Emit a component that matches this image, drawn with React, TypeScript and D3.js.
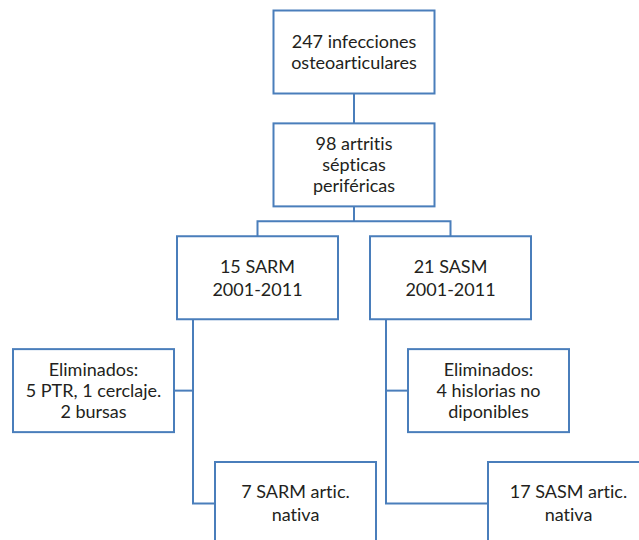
import { scaleLinear } from "d3";

// node labels (one array of lines per box)
const nodeIds = ["total", "artritis", "sarm", "sasm", "elimSarm", "elimSasm", "finalSarm", "finalSasm"];
const nodeLabels: string[][] = [
  ["247 infecciones", "osteoarticulares"],
  ["98 artritis", "sépticas", "periféricas"],
  ["15 SARM", "2001-2011"],
  ["21 SASM", "2001-2011"],
  ["Eliminados:", "5 PTR, 1 cerclaje.", "2 bursas"],
  ["Eliminados:", "4 hislorias no", "diponibles"],
  ["7 SARM artic.", "nativa"],
  ["17 SASM artic.", "nativa"],
];
const nodeRows = [0, 1, 2, 2, 3, 3, 4, 4];

const W = 639;
const H = 540;
const BOX_W = 161;
const BOX_H = 83;
const BLUE = "#4a7ebb";
const INK = "#231f20";

// layout: left edge of each box
const boxLeft: Record<string, number> = {
  total: 273.5,
  artritis: 273.5,
  sarm: 177,
  sasm: 370,
  elimSarm: 13,
  elimSasm: 408,
  finalSarm: 215,
  finalSasm: 488,
};
const lineGap: Record<string, number> = { sarm: 23, sasm: 23, finalSarm: 23, finalSasm: 23 };

const rowY = scaleLinear().domain([0, 4]).range([52, 503.5]);

export default function App() {
  const nodes = nodeIds.map((id, i) => {
    const cy = rowY(nodeRows[i]);
    const x = boxLeft[id];
    return { id, lines: nodeLabels[i], x, y: cy - BOX_H / 2, cx: x + BOX_W / 2, cy };
  });
  const n = Object.fromEntries(nodes.map((d) => [d.id, d]));

  const spineY = (n.artritis.y + BOX_H + n.sarm.y) / 2;
  const trunkL = n.sarm.x + 16;
  const trunkR = n.sasm.x + 16;

  const paths = [
    `M${n.total.cx},${n.total.y + BOX_H}V${n.artritis.y}`,
    `M${n.artritis.cx},${n.artritis.y + BOX_H}V${spineY}`,
    `M${n.sarm.cx},${n.sarm.y}V${spineY}H${n.sasm.cx}V${n.sasm.y}`,
    `M${trunkL},${n.sarm.y + BOX_H}V${n.finalSarm.cy}H${n.finalSarm.x}`,
    `M${trunkL},${n.elimSarm.cy}H${n.elimSarm.x + BOX_W}`,
    `M${trunkR},${n.sasm.y + BOX_H}V${n.finalSasm.cy}H${n.finalSasm.x}`,
    `M${trunkR},${n.elimSasm.cy}H${n.elimSasm.x}`,
  ];

  return (
    <svg width={W} height={H} style={{ position: "absolute", left: 0, top: 0 }}>
      <rect width={W} height={H} fill="#fff" />
      {paths.map((d, i) => (
        <path key={i} d={d} fill="none" stroke={BLUE} strokeWidth={2} />
      ))}
      {nodes.map((d) => {
        const gap = lineGap[d.id] ?? 21;
        const y0 = d.cy - ((d.lines.length - 1) * gap) / 2;
        return (
          <g key={d.id}>
            <rect x={d.x} y={d.y} width={BOX_W} height={BOX_H} fill="#fff" stroke={BLUE} strokeWidth={2} />
            {d.lines.map((t, j) => (
              <text
                key={j}
                x={d.cx}
                y={y0 + j * gap}
                dy="0.35em"
                textAnchor="middle"
                fontFamily="Lato, 'Open Sans', sans-serif"
                fontSize={18}
                fill={INK}
                style={{ fontVariantLigatures: "none" }}
              >
                {t}
              </text>
            ))}
          </g>
        );
      })}
    </svg>
  );
}
